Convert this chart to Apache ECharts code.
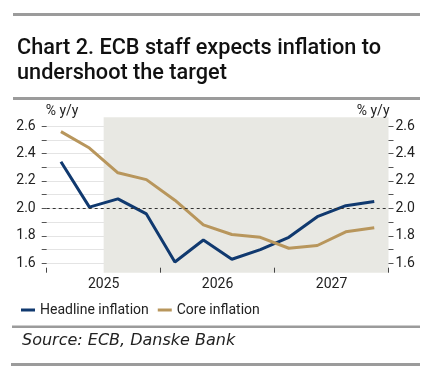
<!DOCTYPE html>
<html>
<head>
<meta charset="utf-8">
<script src="https://cdn.jsdelivr.net/npm/echarts@6/dist/echarts.min.js"></script>
<style>
html,body{margin:0;padding:0;background:#fff;}
#chart{width:428px;height:373px;}
</style>
</head>
<body>
<div id="chart"></div>
<script>
// Quarterly ECB staff projections, 2025Q1 .. 2027Q4
const quarters = ['2025Q1','2025Q2','2025Q3','2025Q4','2026Q1','2026Q2','2026Q3','2026Q4','2027Q1','2027Q2','2027Q3','2027Q4'];
const headline = [2.34, 2.01, 2.07, 1.96, 1.61, 1.77, 1.63, 1.70, 1.79, 1.94, 2.02, 2.05];
const core     = [2.56, 2.44, 2.26, 2.21, 2.06, 1.88, 1.81, 1.79, 1.71, 1.73, 1.83, 1.86];
const years = ['2025', '2026', '2027'];
const yTicks = [1.6, 1.7, 1.8, 1.9, 2.0, 2.1, 2.2, 2.3, 2.4, 2.5, 2.6];
const yLabels = [1.6, 1.8, 2.0, 2.2, 2.4, 2.6];
const forecastStart = '2025Q3';
const target = 2.0;

const FONT = 'Roboto';
const NAVY = '#10396f';
const GOLD = '#b8965c';
const RULE = '#9b9b9b';

// x position = quarter index + 0.5 (centre of each quarter band)
const toPts = arr => arr.map((v, i) => [i + 0.5, v]);
const yearTickPos = years.map((y, i) => i * 4).concat([years.length * 4]);
const yearLabelPos = years.map((y, i) => i * 4 + 2);
const startIdx = quarters.indexOf(forecastStart);

const chart = echarts.init(document.getElementById('chart'), null, {renderer: 'canvas'});

const yAxisBase = (pos) => ({
  type: 'value',
  position: pos,
  min: 1.532,
  max: 2.664,
  z: 1,
  name: '% y/y',
  nameLocation: 'end',
  nameGap: 6,
  nameTextStyle: {
    fontFamily: FONT, fontSize: 14, color: '#222',
    align: pos === 'left' ? 'left' : 'right',
    verticalAlign: 'middle',
    padding: pos === 'left' ? [0, 0, 0, -1] : [0, -1, 0, 0]
  },
  axisLine: {show: false},
  axisTick: {show: true, inside: false, length: 5, lineStyle: {color: '#555', width: 1}, customValues: yTicks},
  axisLabel: {
    fontFamily: FONT, fontSize: 14, color: '#222',
    margin: pos === 'left' ? 11 : 7,
    customValues: yLabels,
    formatter: v => v.toFixed(1)
  },
  splitLine: {show: pos === 'left', lineStyle: {color: '#e4e4e4', width: 1}}
});

chart.setOption({
  animation: false,
  backgroundColor: '#fff',
  title: {
    text: 'Chart 2. ECB staff expects inflation to\nundershoot the target',
    left: 12,
    top: 31,
    textStyle: {fontFamily: FONT, fontWeight: 500, fontSize: 21.7, lineHeight: 25, color: '#111'}
  },
  grid: {left: 46.7, right: 39.5, top: 117.3, bottom: 100.3, containLabel: false},
  legend: {
    left: 16, top: 298,
    itemWidth: 14, itemHeight: 3, itemGap: 9,
    icon: 'rect',
    data: ['Headline inflation', 'Core inflation'],
    textStyle: {fontFamily: FONT, fontSize: 14, color: '#222'}
  },
  xAxis: {
    type: 'value',
    min: 0,
    max: quarters.length,
    z: 1,
    axisLine: {show: false},
    axisTick: {show: true, inside: true, length: 5, lineStyle: {color: '#444', width: 1}, customValues: yearTickPos},
    axisLabel: {
      fontFamily: FONT, fontSize: 14, color: '#222', margin: 5,
      customValues: yearLabelPos,
      formatter: v => years[Math.round((v - 2) / 4)]
    },
    splitLine: {show: false}
  },
  yAxis: [yAxisBase('left'), yAxisBase('right')],
  graphic: [
    {type: 'rect', shape: {x: 13, y: 13, width: 407, height: 3}, style: {fill: RULE}},
    {type: 'rect', shape: {x: 13, y: 97, width: 407, height: 3}, style: {fill: RULE}},
    {type: 'rect', shape: {x: 12, y: 325.5, width: 408, height: 2.5}, style: {fill: RULE}},
    {type: 'rect', shape: {x: 11, y: 363, width: 409, height: 3}, style: {fill: RULE}},
    {type: 'text', left: 22, top: 333, style: {text: 'Source: ECB, Danske Bank', fontFamily: 'DejaVu Sans', fontStyle: 'italic', fontSize: 16, fill: '#222'}}
  ],
  series: [
    {
      name: 'shade', type: 'line', z: 0, data: [], silent: true,
      markArea: {
        silent: true,
        itemStyle: {color: '#e8e8e3'},
        data: [[{xAxis: startIdx, yAxis: 1.532}, {xAxis: quarters.length, yAxis: 2.664}]]
      }
    },
    {
      name: 'Headline inflation', type: 'line', z: 3,
      data: toPts(headline), showSymbol: false, symbol: 'none',
      lineStyle: {color: NAVY, width: 3}, itemStyle: {color: NAVY},
      markLine: {
        silent: true, symbol: ['none', 'none'], label: {show: false},
        lineStyle: {color: '#333', type: [3, 3], width: 1},
        data: [{yAxis: target}]
      }
    },
    {
      name: 'Core inflation', type: 'line', z: 3,
      data: toPts(core), showSymbol: false, symbol: 'none',
      lineStyle: {color: GOLD, width: 3}, itemStyle: {color: GOLD}
    }
  ]
});
</script>
</body>
</html>
